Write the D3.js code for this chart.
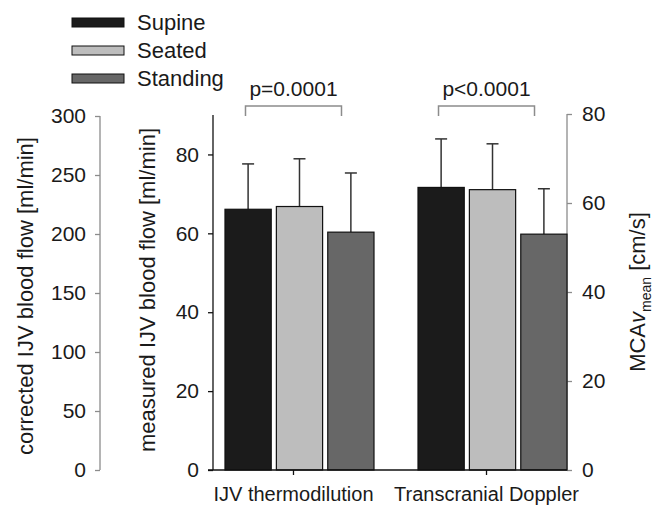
<!DOCTYPE html>
<meta charset="utf-8">
<title>IJV flow and MCAv by posture</title>
<style>
html, body { margin: 0; padding: 0; background: #fff; overflow: hidden; }
text { font-family: "Liberation Sans", Arial, Helvetica, sans-serif; fill: #1a1a1a; }
.tick text { font-size: 21px; }
.grey .domain, .grey .tick line { stroke: #8c8c8c; stroke-width: 1.3px; }
.dark .domain, .dark .tick line { stroke: #111; stroke-width: 1.3px; }
</style>
<svg width="655" height="506"></svg>
<script src="https://d3js.org/d3.v7.min.js"></script>
<script>

// data
var groups = ["IJV thermodilution", "Transcranial Doppler"];
var postures = ["Supine", "Seated", "Standing"];
var postureColors = ["#1b1b1b", "#bdbdbd", "#676767"];
// group 1 on measured IJV scale (ml/min), group 2 on MCAv scale (cm/s)
var ijvMean = [66.1, 66.8, 60.3];
var ijvTop = [77.6, 78.9, 75.3];
var mcaMean = [63.5, 63.0, 53.0];
var mcaTop = [74.4, 73.3, 63.2];
var pLabels = ["p=0.0001", "p<0.0001"];
var correctedTicks = [0, 50, 100, 150, 200, 250, 300];
var measuredTicks = [0, 20, 40, 60, 80];
var mcaTicks = [0, 20, 40, 60, 80];

var svg = d3.select("svg");

var y0 = 470, y1 = 115;
var yCorr = d3.scaleLinear().domain([0, 300]).range([y0, y1 + 1]);
var yMeas = d3.scaleLinear().domain([0, 90]).range([y0, y1]);
var yMca = d3.scaleLinear().domain([0, 80]).range([y0, y1 - 1]);
var yScales = [yMeas, yMca];

var x = d3.scaleBand().domain(groups).range([213, 567]).paddingInner(0.228).paddingOuter(0.031);
var xs = d3.scaleBand().domain(postures).range([6, x.bandwidth() + 6]).paddingInner(0.1).paddingOuter(0);
var color = d3.scaleOrdinal().domain(postures).range(postureColors);

var rows = [];
groups.forEach(function(g, gi) {
  var m = gi == 0 ? ijvMean : mcaMean,
      t = gi == 0 ? ijvTop : mcaTop;
  postures.forEach(function(p, i) {
    rows.push({group: g, gi: gi, posture: p, mean: m[i], top: t[i]});
  });
});

// left axis: corrected
svg.append("g")
    .attr("class", "grey")
    .attr("transform", "translate(100,0)")
    .call(d3.axisLeft(yCorr).tickValues(correctedTicks).tickSize(5).tickPadding(9))
    .call(function(g) { g.select(".domain").attr("d", "M0," + yCorr(0) + "V" + yCorr(300)); });

// middle axis: measured
svg.append("g")
    .attr("class", "dark")
    .attr("transform", "translate(213,0)")
    .call(d3.axisLeft(yMeas).tickValues(measuredTicks).tickSize(5).tickPadding(9))
    .call(function(g) { g.select(".domain").attr("d", "M0," + yMeas(0) + "V" + yMeas(90)); });

// right axis: MCAv
svg.append("g")
    .attr("class", "grey")
    .attr("transform", "translate(567,0)")
    .call(d3.axisRight(yMca).tickValues(mcaTicks).tickSize(5).tickPadding(10))
    .call(function(g) { g.select(".domain").attr("d", "M0," + yMca(0) + "V" + yMca(80)); });

// bars
var bar = svg.append("g").selectAll("g")
  .data(rows)
  .enter().append("g")
    .attr("transform", function(d) { return "translate(" + (x(d.group) + xs(d.posture)) + ",0)"; });

bar.append("line")
    .attr("x1", xs.bandwidth() / 2).attr("x2", xs.bandwidth() / 2)
    .attr("y1", function(d) { return yScales[d.gi](d.mean); })
    .attr("y2", function(d) { return yScales[d.gi](d.top); })
    .attr("stroke", "#333").attr("stroke-width", 1.5);

bar.append("line")
    .attr("x1", xs.bandwidth() / 2 - 6).attr("x2", xs.bandwidth() / 2 + 6)
    .attr("y1", function(d) { return yScales[d.gi](d.top); })
    .attr("y2", function(d) { return yScales[d.gi](d.top); })
    .attr("stroke", "#333").attr("stroke-width", 1.5);

bar.append("rect")
    .attr("y", function(d) { return yScales[d.gi](d.mean); })
    .attr("width", xs.bandwidth())
    .attr("height", function(d) { return y0 - yScales[d.gi](d.mean); })
    .attr("fill", function(d) { return color(d.posture); })
    .attr("stroke", "#111").attr("stroke-width", 1.2);

// x axis
svg.append("g")
    .attr("class", "dark")
    .attr("transform", "translate(0," + y0 + ")")
    .call(d3.axisBottom(x).tickSizeInner(5).tickSizeOuter(0).tickPadding(12))
    .call(function(g) {
      g.select(".domain").attr("d", "M208,0H567");
      g.selectAll(".tick text").style("font-size", "20px");
    });

// significance brackets
var br = svg.append("g").selectAll("g")
  .data(groups)
  .enter().append("g")
    .attr("transform", function(d) { return "translate(" + (x(d) + x.bandwidth() / 2) + ",0)"; });

br.append("path")
    .attr("d", "M-48,116V106H48V116")
    .attr("fill", "none").attr("stroke", "#8c8c8c").attr("stroke-width", 1.5);

br.append("text")
    .attr("y", 96)
    .attr("text-anchor", "middle")
    .style("font-size", "21px")
    .text(function(d, i) { return pLabels[i]; });

// axis titles
svg.append("text")
    .attr("transform", "translate(33,296) rotate(-90)")
    .attr("text-anchor", "middle")
    .style("font-size", "22px")
    .text("corrected IJV blood flow [ml/min]");

svg.append("text")
    .attr("transform", "translate(155,290) rotate(-90)")
    .attr("text-anchor", "middle")
    .style("font-size", "22px")
    .text("measured IJV blood flow [ml/min]");

var mt = svg.append("text")
    .attr("transform", "translate(645,292) rotate(-90)")
    .attr("text-anchor", "middle")
    .style("font-size", "22px");
mt.append("tspan").text("MCA");
mt.append("tspan").style("font-style", "italic").text("v");
mt.append("tspan").attr("dy", 6).style("font-size", "14px").text("mean");
mt.append("tspan").attr("dy", -6).text(" [cm/s]");

// legend
var leg = svg.append("g").selectAll("g")
  .data(postures)
  .enter().append("g")
    .attr("transform", function(d, i) { return "translate(72," + (18 + i * 28) + ")"; });

leg.append("rect")
    .attr("width", 52).attr("height", 9)
    .attr("fill", function(d) { return color(d); })
    .attr("stroke", "#111").attr("stroke-width", 1);

leg.append("text")
    .attr("x", 65).attr("y", 12)
    .style("font-size", "22px")
    .text(function(d) { return d; });

</script>
